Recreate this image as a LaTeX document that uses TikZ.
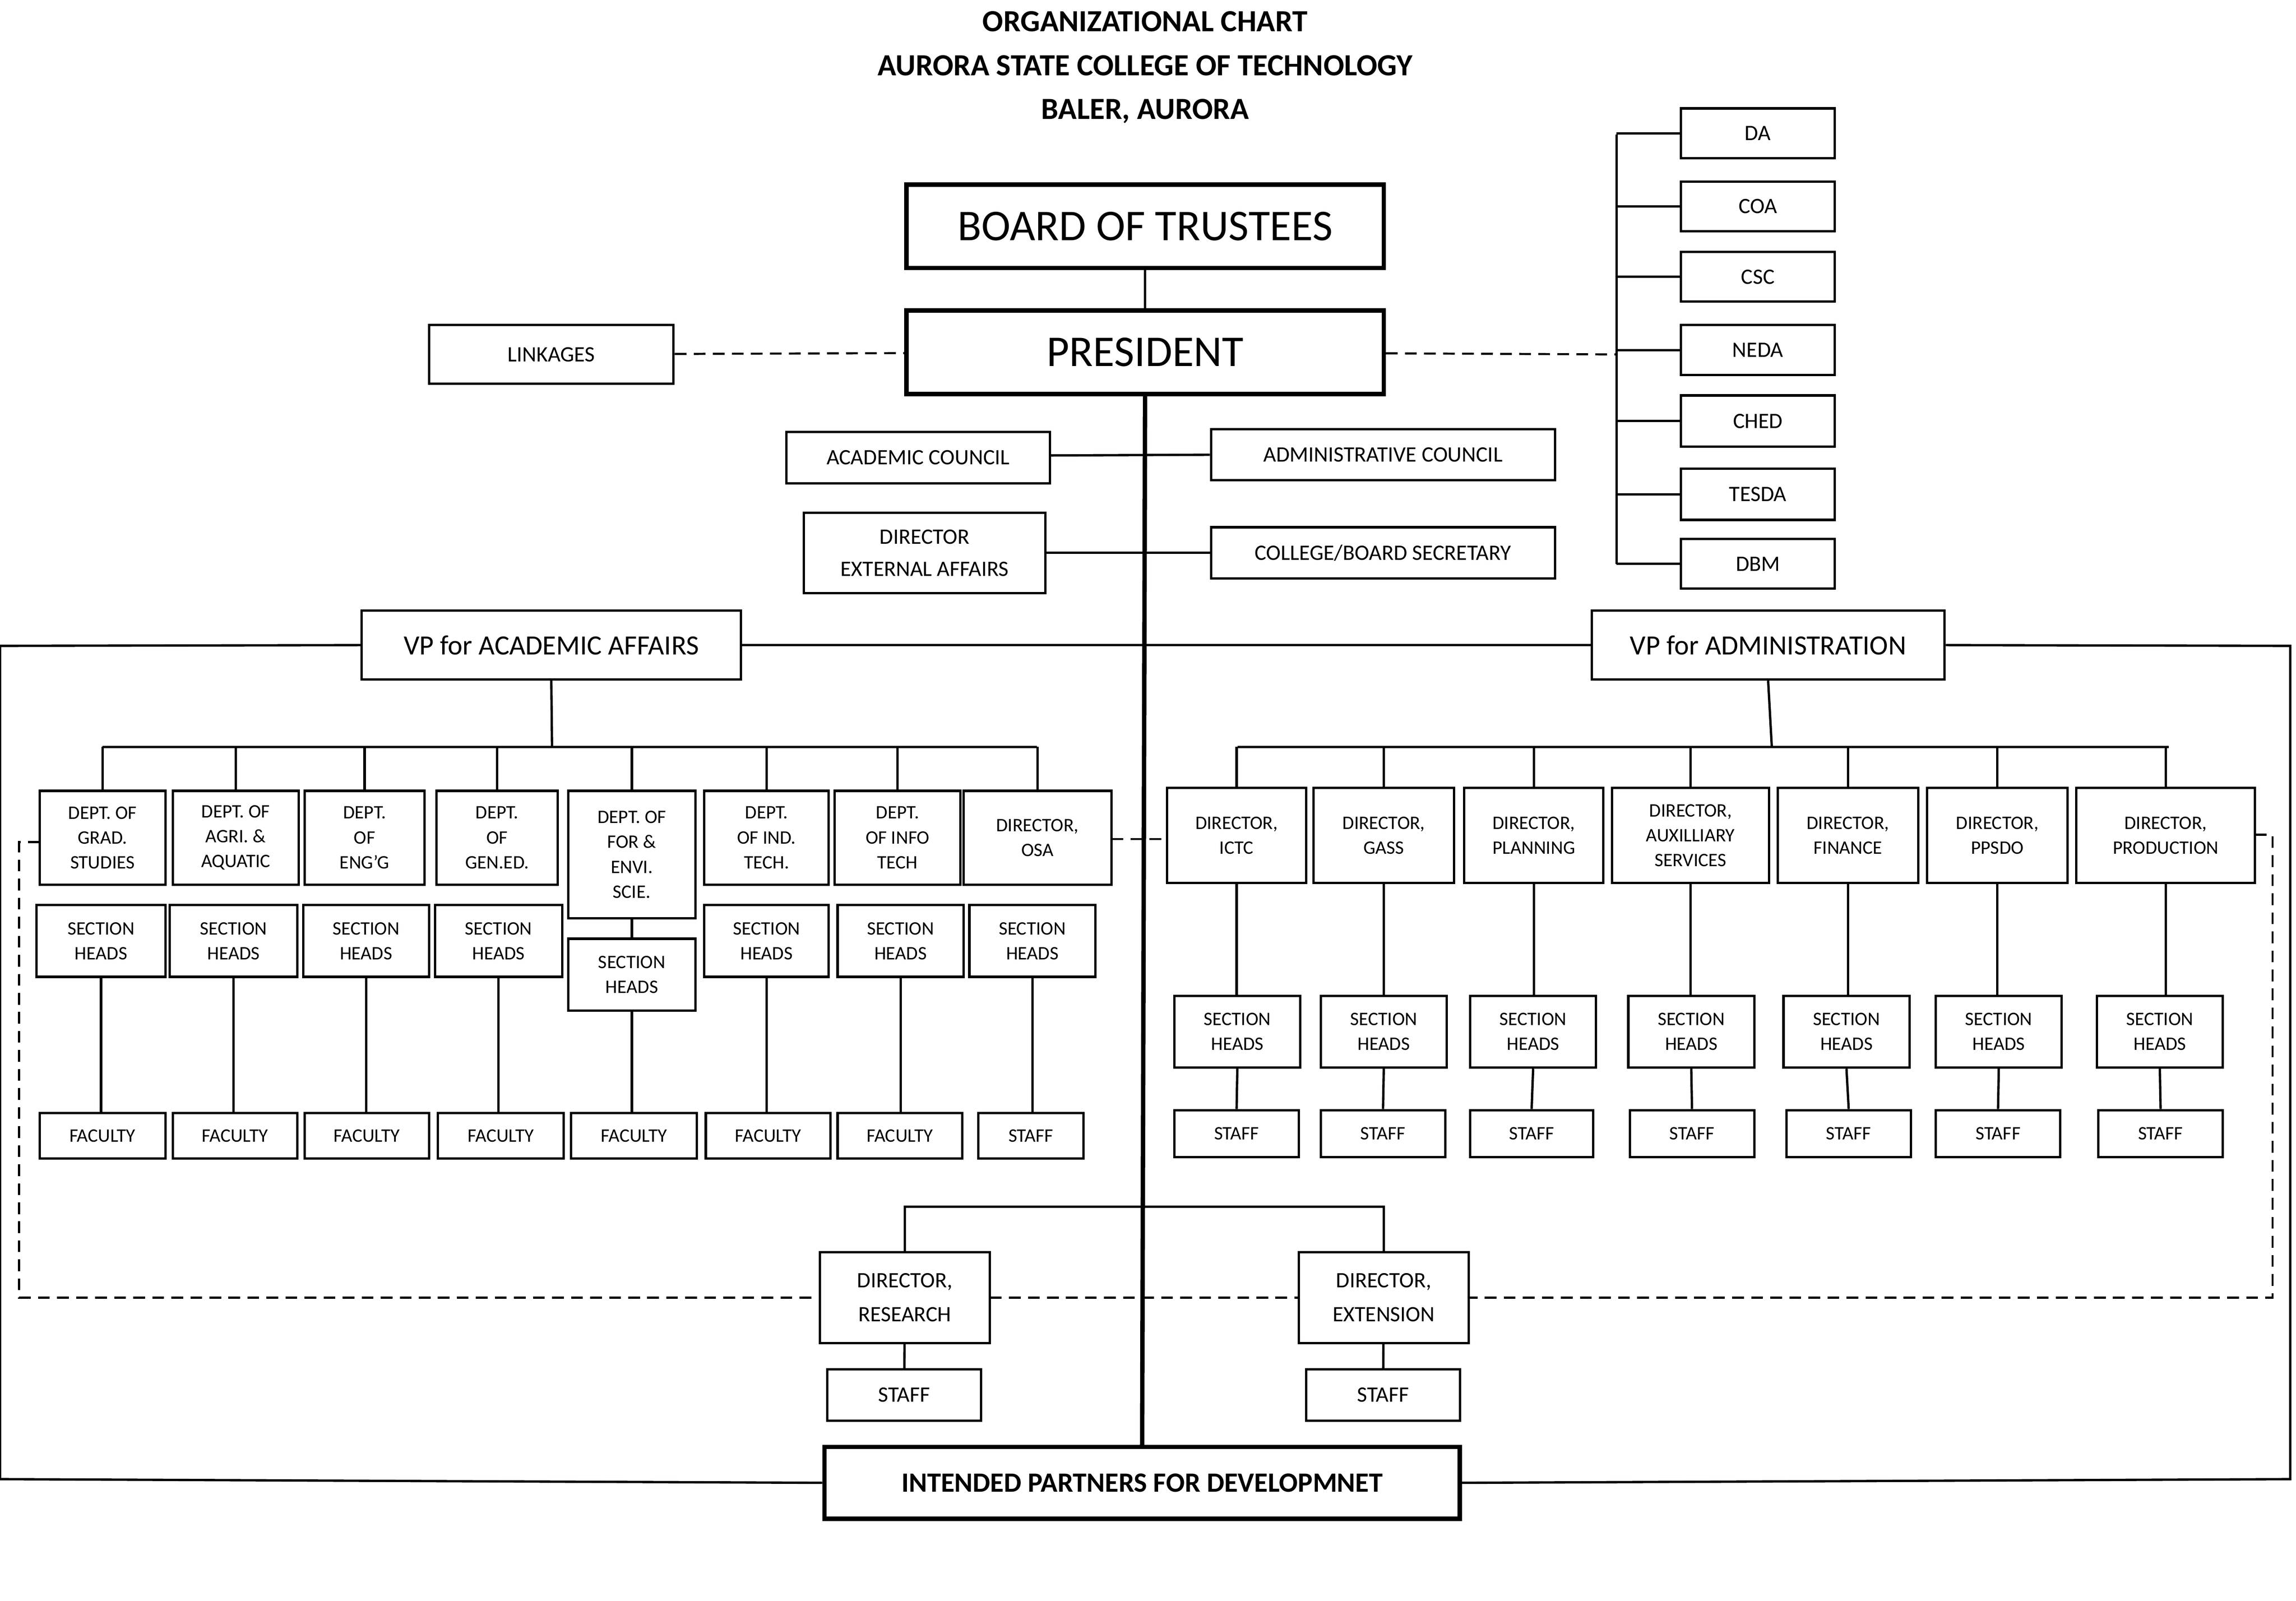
\documentclass[tikz,border=0pt]{standalone}
\usepackage{fontspec}
\setmainfont{Carlito}
\begin{document}
\begin{tikzpicture}[x=1pt,y=-1pt,
  box/.style={draw,line width=1.6pt,fill=white,align=center,inner sep=1pt,font=\fontsize{13}{17}\selectfont},
  thick box/.style={line width=3pt},
  ln/.style={line width=1.6pt},
  dln/.style={line width=1.4pt,dash pattern=on 8pt off 5pt}]
\useasboundingbox (0,0) rectangle (1568,1093);
\newcommand\bx[7][]{\node[box,#1,minimum width={#4-#2},minimum height={#5-#3}] (#7) at ({(#2+#4)/2},{(#3+#5)/2}) {#6};}
% title
\node[font=\bfseries\fontsize{21}{30}\selectfont,align=center] (title) at (782,46) {ORGANIZATIONAL CHART\\AURORA STATE COLLEGE OF TECHNOLOGY\\BALER, AURORA};
% top
\bx[thick box,font=\fontsize{30}{34}\selectfont]{619}{126}{945}{183}{BOARD OF TRUSTEES}{bot}
\bx[thick box,font=\fontsize{30}{34}\selectfont]{619}{212}{945}{269}{PRESIDENT}{pres}
\bx[font=\fontsize{15}{18}\selectfont]{293}{222}{460}{262}{LINKAGES}{link}
\draw[ln] (bot) -- (pres);
\draw[dln] (link) -- (pres);
% agencies
\coordinate (rv) at (1104,242);
\draw[dln] (pres) -- (rv);
\draw[ln] (1104,92) -- (1104,385);
\foreach \n/\t/\a/\b in {da/DA/74/108,coa/COA/124/158,csc/CSC/172/206,neda/NEDA/222/256,ched/CHED/270/305,tesda/TESDA/320/355,dbm/DBM/368/402}{
  \bx[font=\fontsize{15}{18}\selectfont]{1148}{\a}{1253}{\b}{\t}{\n}
  \draw[ln] (\n.west) -- (1104,{(\a+\b)/2});
}
% spine
\coordinate (sp) at (782,988);
% councils
\bx[font=\fontsize{15}{18}\selectfont]{537}{295}{717}{330}{ACADEMIC COUNCIL}{ac}
\bx[font=\fontsize{15}{18}\selectfont]{827}{293}{1062}{328}{ADMINISTRATIVE COUNCIL}{adc}
\bx[font=\fontsize{15}{22}\selectfont]{549}{350}{714}{405}{DIRECTOR\\EXTERNAL AFFAIRS}{dea}
\bx[font=\fontsize{15}{18}\selectfont]{827}{360}{1062}{395}{COLLEGE/BOARD SECRETARY}{cbs}
\draw[ln] (717,311) -- (adc.west);
\draw[ln] (dea.east) -- (cbs.west);
% VPs
\bx[font=\fontsize{19}{22}\selectfont]{247}{417}{506}{464}{VP for ACADEMIC AFFAIRS}{vpa}
\bx[font=\fontsize{19}{22}\selectfont]{1087}{417}{1328}{464}{VP for ADMINISTRATION}{vpd}
\bx[thick box,font=\bfseries\fontsize{19}{22}\selectfont]{563}{988}{997}{1037}{INTENDED PARTNERS FOR DEVELOPMNET}{ipd}
\draw[ln] (vpa.east) -- (vpd.west);
\draw[ln] (vpa.west) -- (0,441) -- (0,1010) -- (ipd.west);
\draw[ln] (vpd.east) -- (1564,441) -- (1564,1010) -- (ipd.east);
% dashed loop
\draw[dln] (27,575) -- (13,575) -- (13,886) -- (1552,886) -- (1552,570) -- (1540,570);
\draw[dln] (759,573) -- (797,573);
\draw[line width=3pt] (pres.south) -- (ipd.north);
% academic side
\draw[ln] (vpa.south) -- (377,510);
\draw[ln] (70,510) -- (708,510);
\foreach \i/\xa/\xb/\yb/\t/\sa/\sb/\sy/\fa/\fb/\ft in {
 1/27/113/604/{DEPT. OF\\GRAD.\\STUDIES}/25/113/618/27/113/FACULTY,
 2/118/204/604/{DEPT. OF\\AGRI. \&\\AQUATIC}/116/203/618/118/203/FACULTY,
 3/208/290/604/{DEPT.\\OF\\ENG'G}/207/293/618/208/293/FACULTY,
 4/298/381/604/{DEPT.\\OF\\GEN.ED.}/297/384/618/299/385/FACULTY,
 5/388/475/627/{DEPT. OF\\FOR \&\\ENVI.\\SCIE.}/388/475/641/390/476/FACULTY,
 6/481/566/604/{DEPT.\\OF IND.\\TECH.}/481/566/618/482/567/FACULTY,
 7/570/656/604/{DEPT.\\OF INFO\\TECH}/572/658/618/572/657/FACULTY,
 8/658/759/604/{DIRECTOR,\\OSA}/662/748/618/668/740/STAFF}{
  \bx{\xa}{540}{\xb}{\yb}{\t}{d\i}
  \bx{\sa}{\sy}{\sb}{\sy+49}{SECTION\\HEADS}{s\i}
  \bx{\fa}{760}{\fb}{791}{\ft}{f\i}
  \draw[ln] (d\i.north) -- (d\i.north |- 0,510);
  \draw[ln] (s\i.south) -- (s\i.south |- f\i.north);
}
\draw[ln] (d5.south) -- (s5.north);
% admin side
\draw[ln] (vpd.south) -- (1210,510);
\draw[ln] (845,510) -- (1481,510);
\foreach \i/\xa/\xb/\t/\sa/\sb/\fa/\fb in {
 1/797/892/{DIRECTOR,\\ICTC}/802/888/802/887,
 2/897/993/{DIRECTOR,\\GASS}/902/988/902/987,
 3/1000/1095/{DIRECTOR,\\PLANNING}/1004/1090/1004/1088,
 4/1101/1208/{DIRECTOR,\\AUXILLIARY\\SERVICES}/1112/1198/1113/1198,
 5/1214/1310/{DIRECTOR,\\FINANCE}/1218/1304/1220/1305,
 6/1316/1412/{DIRECTOR,\\PPSDO}/1322/1408/1322/1407,
 7/1418/1540/{DIRECTOR,\\PRODUCTION}/1432/1518/1433/1518}{
  \bx{\xa}{538}{\xb}{603}{\t}{a\i}
  \bx{\sa}{680}{\sb}{729}{SECTION\\HEADS}{as\i}
  \bx{\fa}{758}{\fb}{790}{STAFF}{af\i}
  \draw[ln] (a\i.north) -- (a\i.north |- 0,510);
  \draw[ln] (a\i.south) -- (a\i.south |- as\i.north);
  \draw[ln] (as\i.south) -- (af\i.north);
}
% research / extension
\draw[ln] (618,855) -- (618,824) -- (945,824) -- (945,855);
\bx[font=\fontsize{15}{23}\selectfont]{560}{855}{676}{917}{DIRECTOR,\\RESEARCH}{res}
\bx[font=\fontsize{15}{23}\selectfont]{887}{855}{1003}{917}{DIRECTOR,\\EXTENSION}{ext}
\bx[font=\fontsize{15}{18}\selectfont]{565}{935}{670}{970}{STAFF}{rs}
\bx[font=\fontsize{15}{18}\selectfont]{892}{935}{997}{970}{STAFF}{es}
\draw[ln] (res) -- (rs);
\draw[ln] (ext) -- (es);
\end{tikzpicture}
\end{document}
